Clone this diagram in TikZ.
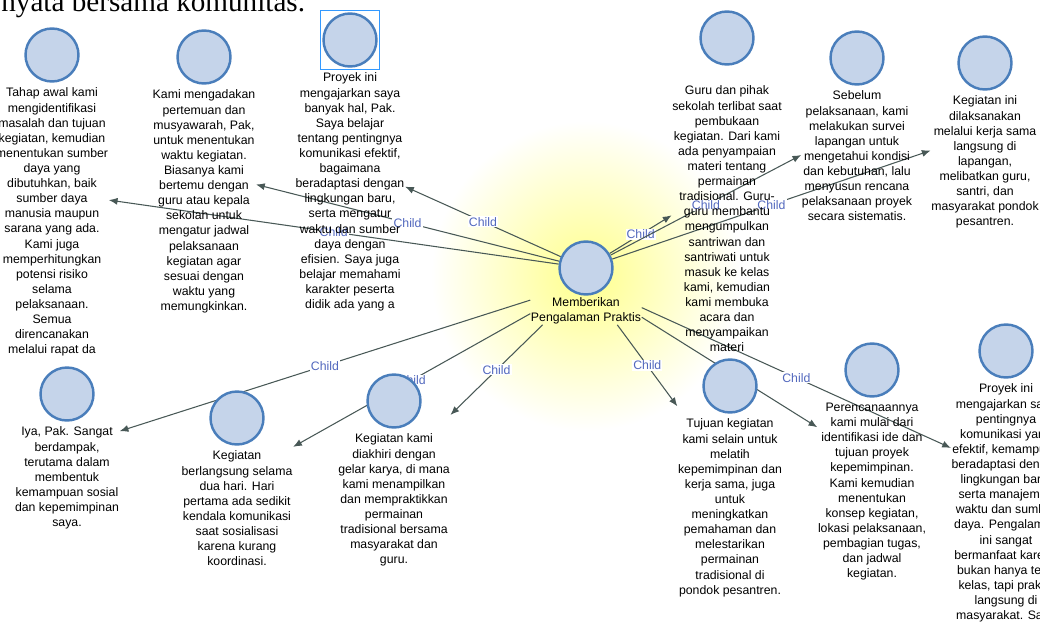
\documentclass[tikz,border=0pt]{standalone}
\usepackage{fontspec}
\setmainfont{Liberation Serif}
\setsansfont{Liberation Sans}
\usetikzlibrary{positioning,fit,arrows.meta}
\definecolor{bubfill}{RGB}{197,212,234}
\definecolor{bubedge}{RGB}{74,126,187}
\definecolor{edgegray}{RGB}{72,88,86}
\definecolor{lblblue}{RGB}{82,104,190}
\definecolor{selblue}{RGB}{51,153,255}
\pgfdeclarelayer{bg}
\pgfsetlayers{bg,main}

\begin{document}
\begin{tikzpicture}[x=0.02cm,y=-0.02cm,
  bub/.style={circle,draw=bubedge,fill=bubfill,line width=1.4pt,minimum size=1.06cm,inner sep=0pt},
  txt/.style={align=center,inner sep=0pt,font=\sffamily\fontsize{7}{8.6}\selectfont},
  grp/.style={inner sep=0pt},
  edge/.style={draw=edgegray,line width=0.6pt,-{Latex[length=5pt,width=4pt]}},
  lbl/.style={text=lblblue,fill=white,inner sep=0.6pt,font=\sffamily\fontsize{7}{8.6}\selectfont}]
\useasboundingbox (0,0) rectangle (1040,625);
%% text above the picture
\node[anchor=base west,inner sep=0pt,font=\fontsize{16.6}{20}\selectfont] (capline) at (1,12) {nyata bersama komunitas.};

%% central topic
\node[bub] (hub) at (586,268) {};
\node[txt,below=0.03cm of hub] (hubtxt) {Memberikan\\Pengalaman Praktis};
\node[grp,fit=(hub)(hubtxt)] (hubbox) {};

%% upper row
\node[bub] (c1) at (52,55) {};
\node[txt,below=0.1cm of c1] (t1) {Tahap awal kami\\mengidentifikasi\\masalah dan tujuan\\kegiatan, kemudian\\menentukan sumber\\daya yang\\dibutuhkan, baik\\sumber daya\\manusia maupun\\sarana yang ada.\\Kami juga\\memperhitungkan\\potensi risiko\\selama\\pelaksanaan.\\Semua\\direncanakan\\melalui rapat da};
\node[bub] (c2) at (204,57) {};
\node[txt,below=0.1cm of c2] (t2) {Kami mengadakan\\pertemuan dan\\musyawarah, Pak,\\untuk menentukan\\waktu kegiatan.\\Biasanya kami\\bertemu dengan\\guru atau kepala\\sekolah untuk\\mengatur jadwal\\pelaksanaan\\kegiatan agar\\sesuai dengan\\waktu yang\\memungkinkan.};
\node[bub] (c3) at (350,40) {};
\node[fit=(c3),draw=selblue,line width=1.1pt,inner sep=1pt] (c3sel) {};
\node[txt,below=0.1cm of c3] (t3) {Proyek ini\\mengajarkan saya\\banyak hal, Pak.\\Saya belajar\\tentang pentingnya\\komunikasi efektif,\\bagaimana\\beradaptasi dengan\\lingkungan baru,\\serta mengatur\\waktu dan sumber\\daya dengan\\efisien. Saya juga\\belajar memahami\\karakter peserta\\didik ada yang a};
\node[bub] (c4) at (727,38) {};
\node[txt,below=0.4cm of c4] (t4) {Guru dan pihak\\sekolah terlibat saat\\pembukaan\\kegiatan. Dari kami\\ada penyampaian\\materi tentang\\permainan\\tradisional. Guru-\\guru membantu\\mengumpulkan\\santriwan dan\\santriwati untuk\\masuk ke kelas\\kami, kemudian\\kami membuka\\acara dan\\menyampaikan\\materi};
\node[bub] (c5) at (857,58) {};
\node[txt,below=0.1cm of c5] (t5) {Sebelum\\pelaksanaan, kami\\melakukan survei\\lapangan untuk\\mengetahui kondisi\\dan kebutuhan, lalu\\menyusun rencana\\pelaksanaan proyek\\secara sistematis.};
\node[bub] (c6) at (985,63) {};
\node[txt,below=0.1cm of c6] (t6) {Kegiatan ini\\dilaksanakan\\melalui kerja sama\\langsung di\\lapangan,\\melibatkan guru,\\santri, dan\\masyarakat pondok\\pesantren.};

%% lower row
\node[bub] (c7) at (67,394) {};
\node[txt,below=0.1cm of c7] (t7) {Iya, Pak. Sangat\\berdampak,\\terutama dalam\\membentuk\\kemampuan sosial\\dan kepemimpinan\\saya.};
\node[bub] (c8) at (237,418) {};
\node[txt,below=0.1cm of c8] (t8) {Kegiatan\\berlangsung selama\\dua hari. Hari\\pertama ada sedikit\\kendala komunikasi\\saat sosialisasi\\karena kurang\\koordinasi.};
\node[bub] (c9) at (394,401) {};
\node[txt,below=0.1cm of c9] (t9) {Kegiatan kami\\diakhiri dengan\\gelar karya, di mana\\kami menampilkan\\dan mempraktikkan\\permainan\\tradisional bersama\\masyarakat dan\\guru.};
\node[bub] (c10) at (730,386) {};
\node[txt,below=0.1cm of c10] (t10) {Tujuan kegiatan\\kami selain untuk\\melatih\\kepemimpinan dan\\kerja sama, juga\\untuk\\meningkatkan\\pemahaman dan\\melestarikan\\permainan\\tradisional di\\pondok pesantren.};
\node[bub] (c11) at (872,370) {};
\node[txt,below=0.1cm of c11] (t11) {Perencanaannya\\kami mulai dari\\identifikasi ide dan\\tujuan proyek\\kepemimpinan.\\Kami kemudian\\menentukan\\konsep kegiatan,\\lokasi pelaksanaan,\\pembagian tugas,\\dan jadwal\\kegiatan.};
\node[bub] (c12) at (1006,351) {};
\node[txt,below=0.1cm of c12] (t12) {Proyek ini\\mengajarkan saya\\pentingnya\\komunikasi yang\\efektif, kemampuan\\beradaptasi dengan\\lingkungan baru,\\serta manajemen\\waktu dan sumber\\daya. Pengalaman\\ini sangat\\bermanfaat karena\\bukan hanya teori\\kelas, tapi praktik\\langsung di\\masyarakat. Saya};

%% boxes round bubble + text
\foreach \n in {1,...,12}
  \node[grp,fit=(c\n)(t\n)] (n\n) {};

%% glow and connectors behind the bubbles
\begin{pgfonlayer}{bg}
\shade[inner color=yellow!45,outer color=white] (hub.center) ++(0,8) circle (3.1cm);
\foreach \n in {1,...,6}
  \draw[edge] (hub) -- node[lbl] {Child} (n\n);
\foreach \n in {7,...,12}
  \draw[edge] (hubbox) -- node[lbl] {Child} (n\n);
\end{pgfonlayer}

\end{tikzpicture}
\end{document}
